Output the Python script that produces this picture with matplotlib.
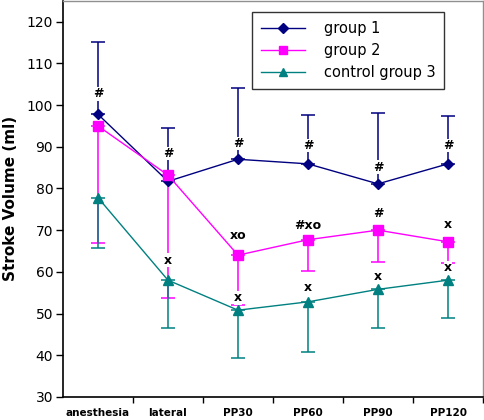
import matplotlib
matplotlib.use("Agg")
import matplotlib.pyplot as plt
import numpy as np

categories = ["anesthesia", "lateral", "PP30", "PP60", "PP90", "PP120"]
series_names = ["group 1", "group 2", "control group 3"]

g1_mean = [97.8, 81.7, 87.0, 85.9, 81.1, 85.9]
g1_upper = [115.1, 94.6, 104.0, 97.5, 98.0, 97.3]

g2_mean = [95.0, 83.2, 64.0, 67.7, 70.0, 67.2]
g2_lower = [66.9, 53.7, 52.0, 60.2, 62.4, 62.0]

g3_mean = [77.8, 58.0, 50.8, 52.8, 55.8, 58.0]
g3_lower = [65.7, 46.5, 39.3, 40.8, 46.5, 49.0]

g1_marks = ["#", "#", "#", "#", "#", "#"]
g1_mark_y = [102.7, 88.4, 90.8, 90.3, 85.1, 90.3]
g2_marks = ["", "", "xo", "#xo", "#", "x"]
g2_mark_y = [0, 0, 68.8, 71.0, 73.9, 71.4]
g3_marks = ["", "x", "x", "x", "x", "x"]
g3_mark_y = [0, 62.8, 53.8, 56.2, 58.8, 61.0]

c1 = "#000080"
c2 = "#FF00FF"
c3 = "#008080"

fig = plt.figure(figsize=(4.84, 4.20), dpi=100)
ax = fig.add_axes([0.130, 0.055, 0.868, 0.943])
x = np.arange(len(categories))

g1_mean_a = np.array(g1_mean)
g2_mean_a = np.array(g2_mean)
g3_mean_a = np.array(g3_mean)

ax.errorbar(x, g1_mean, yerr=[np.zeros(6), np.array(g1_upper) - g1_mean_a],
            fmt="none", ecolor=c1, elinewidth=1.1, capsize=5, capthick=1.1, zorder=2)
ax.errorbar(x, g2_mean, yerr=[g2_mean_a - np.array(g2_lower), np.zeros(6)],
            fmt="none", ecolor=c2, elinewidth=1.1, capsize=5, capthick=1.1, zorder=2)
ax.errorbar(x, g3_mean, yerr=[g3_mean_a - np.array(g3_lower), np.zeros(6)],
            fmt="none", ecolor=c3, elinewidth=1.1, capsize=5, capthick=1.1, zorder=2)

ax.plot(x, g1_mean, color=c1, lw=1.0, marker="D", ms=5.5, mfc=c1, mec=c1, label=series_names[0], zorder=3)
ax.plot(x, g2_mean, color=c2, lw=1.0, marker="s", ms=6.5, mfc=c2, mec=c2, label=series_names[1], zorder=3)
ax.plot(x, g3_mean, color=c3, lw=1.0, marker="^", ms=7, mfc=c3, mec=c3, label=series_names[2], zorder=3)

bb = dict(facecolor="white", edgecolor="none", pad=0.3)
for marks, ys in [(g1_marks, g1_mark_y), (g2_marks, g2_mark_y), (g3_marks, g3_mark_y)]:
    for xi, (m, yv) in enumerate(zip(marks, ys)):
        if m:
            ax.text(xi, yv, m, ha="center", va="center", fontsize=9, fontweight="bold",
                    color="black", bbox=bb, zorder=4)

ax.set_xlim(-0.5, len(categories) - 0.5)
ax.set_ylim(30, 125)
ax.set_yticks(np.arange(30, 121, 10))
ax.tick_params(axis="y", labelsize=10, length=5, width=1, direction="out", pad=2)
ax.set_xticks(x)
ax.set_xticklabels(categories, fontsize=7.5, fontweight="bold")
ax.set_xticks(np.arange(0.5, len(categories), 1), minor=True)
ax.tick_params(axis="x", which="major", length=0, pad=8)
ax.tick_params(axis="x", which="minor", length=4, width=1, direction="out")

ax.set_ylabel("Stroke Volume (ml)", fontsize=11, fontweight="bold", labelpad=6)

for s in ["left", "bottom"]:
    ax.spines[s].set_color("black")
    ax.spines[s].set_linewidth(1.2)
for s in ["top", "right"]:
    ax.spines[s].set_color("#909090")
    ax.spines[s].set_linewidth(1.0)

leg = ax.legend(loc="upper right", bbox_to_anchor=(0.925, 0.99), fontsize=10.5,
                frameon=True, fancybox=False, edgecolor="black", handlelength=3.0,
                borderpad=0.6, labelspacing=0.5, handletextpad=1.3, markerscale=0.9)
leg.get_frame().set_linewidth(1.0)

fig.savefig("out.png", dpi=100)
